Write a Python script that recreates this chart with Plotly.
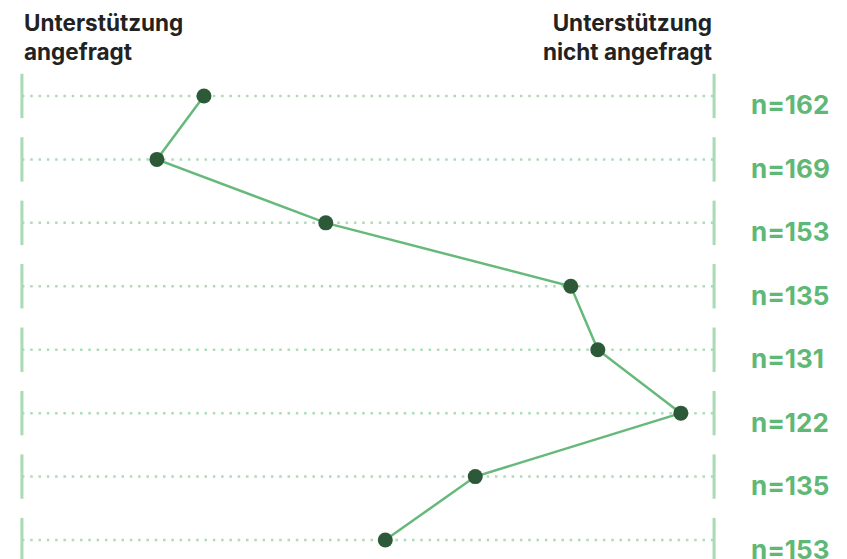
import plotly.graph_objects as go

# Data
rows = [0, 1, 2, 3, 4, 5, 6, 7]
values = [26.3, 19.5, 43.9, 79.3, 83.2, 95.2, 65.5, 52.5]   # position between the two poles (0-100)
n_labels = ["n=162", "n=169", "n=153", "n=135", "n=131", "n=122", "n=135", "n=153"]
left_title = "Unterstützung<br>angefragt"
right_title = "Unterstützung<br>nicht angefragt"

LINE_GREEN = "#66b97a"
DOT_GREEN = "#afdbb8"
BAR_GREEN = "#a8dab3"
POINT_GREEN = "#2c5a38"
LABEL_GREEN = "#5fb875"
TITLE = "#222222"

fig = go.Figure()

shapes = []
for r in rows:
    shapes.append(dict(type="line", xref="x", yref="y", x0=0, x1=100, y0=r, y1=r,
                       line=dict(color=DOT_GREEN, width=2.5, dash="2.5px,5.8px"), layer="below"))
    for xx in (0, 100):
        shapes.append(dict(type="line", xref="x", yref="y", x0=xx, x1=xx, y0=r - 0.35, y1=r + 0.35,
                           line=dict(color=BAR_GREEN, width=3), layer="below"))

fig.add_trace(go.Scatter(
    x=values, y=rows, mode="lines+markers",
    line=dict(color=LINE_GREEN, width=2.5),
    marker=dict(color=POINT_GREEN, size=15, line=dict(width=0)),
    hoverinfo="skip", showlegend=False, cliponaxis=False,
))

annotations = []
for r, lab in zip(rows, n_labels):
    annotations.append(dict(x=100, xref="x", y=r, yref="y", text=lab, showarrow=False,
                            xanchor="left", yanchor="middle", xshift=35, yshift=-9,
                            font=dict(family="Inter, sans-serif", size=26, color=LABEL_GREEN, weight=700)))
annotations.append(dict(x=0, xref="x", y=1, yref="paper", text=left_title, showarrow=False,
                        xanchor="left", yanchor="top", align="left", yshift=1,
                        font=dict(family="Inter, sans-serif", size=22.5, color=TITLE, weight=700)))
annotations.append(dict(x=100, xref="x", y=1, yref="paper", text=right_title, showarrow=False,
                        xanchor="right", yanchor="top", align="right", yshift=1,
                        font=dict(family="Inter, sans-serif", size=22.5, color=TITLE, weight=700)))

# page body has an 8px margin; figure is sized so the page fills 847x559.
# x range padded by 1 unit each side so the end bars are not clipped.
fig.update_layout(
    width=839, height=551,
    margin=dict(l=7.08, r=126.08, t=0, b=0),
    paper_bgcolor="white", plot_bgcolor="white",
    shapes=shapes, annotations=annotations,
    xaxis=dict(range=[-1, 101], visible=False, fixedrange=True),
    yaxis=dict(range=[7.299, -1.387], visible=False, fixedrange=True),
    showlegend=False,
)

fig.write_html("out.html")
